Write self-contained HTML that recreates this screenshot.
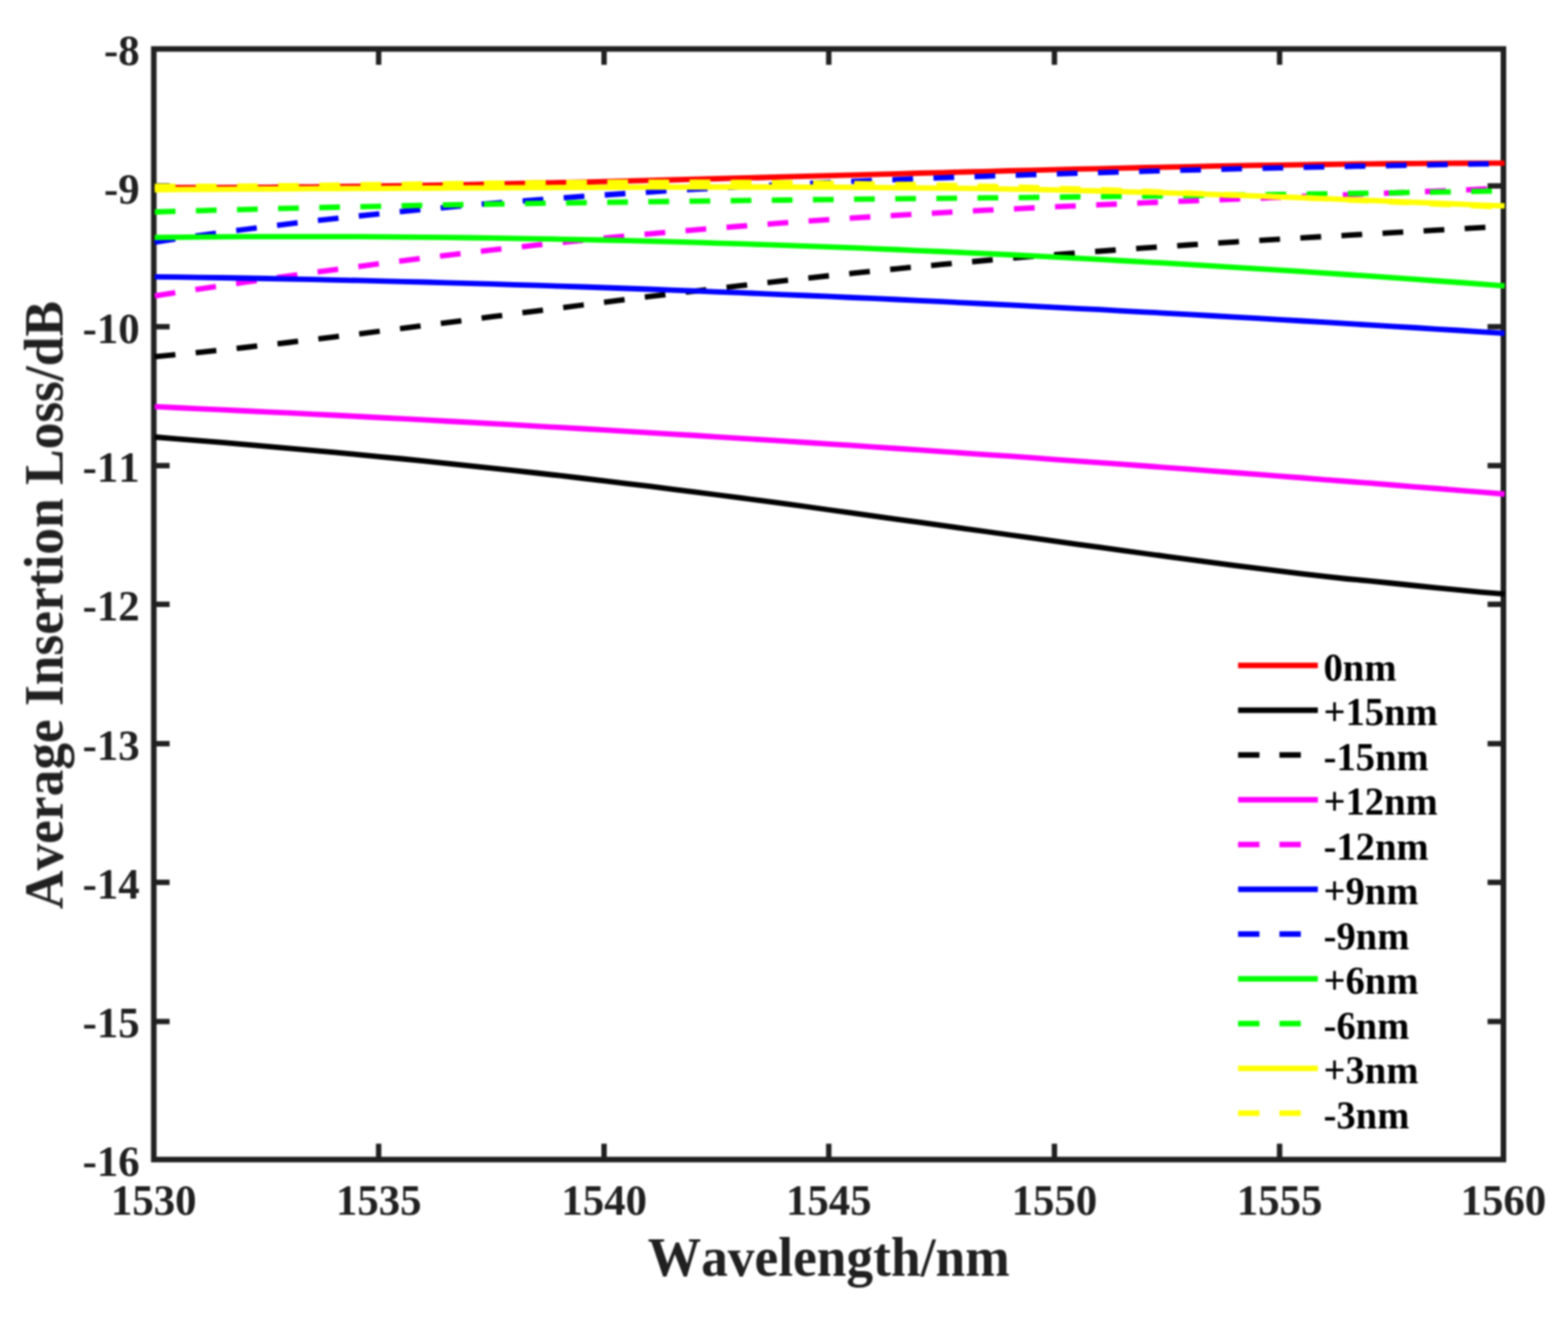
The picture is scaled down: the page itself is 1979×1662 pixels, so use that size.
<!DOCTYPE html>
<html lang="en">
<head>
<meta charset="utf-8">
<title>Average Insertion Loss vs Wavelength</title>
<style>
html,body{margin:0;padding:0;background:#fff;}
body{width:1979px;height:1662px;overflow:hidden;}
svg{display:block;}
text{font-family:"Liberation Serif","DejaVu Serif",serif;font-weight:bold;font-kerning:none;}
.tk{font-size:54px;fill:#202020;}
.al{font-size:67.4px;fill:#202020;}
.lg{font-size:48.7px;fill:#000;}
</style>
</head>
<body>
<svg width="1979" height="1662" viewBox="0 0 1979 1662">
<rect x="0" y="0" width="1979" height="1662" fill="#ffffff"/>
<defs><filter id="soft" x="0" y="0" width="1979" height="1662" filterUnits="userSpaceOnUse" color-interpolation-filters="sRGB"><feGaussianBlur in="SourceGraphic" stdDeviation="1" result="b"/><feComposite in="SourceGraphic" in2="b" operator="arithmetic" k1="0" k2="0" k3="1" k4="0"/></filter></defs>
<g filter="url(#soft)">
<g stroke="#202020" fill="none" stroke-linecap="butt">
<rect x="194.1" y="61.8" width="1703.4" height="1401.5" stroke-width="7"/>
<line x1="477.9" y1="1463.3" x2="477.9" y2="1443.3" stroke-width="6.8"/>
<line x1="477.9" y1="61.8" x2="477.9" y2="81.8" stroke-width="6.8"/>
<line x1="762.4" y1="1463.3" x2="762.4" y2="1443.3" stroke-width="6.8"/>
<line x1="762.4" y1="61.8" x2="762.4" y2="81.8" stroke-width="6.8"/>
<line x1="1046" y1="1463.3" x2="1046" y2="1443.3" stroke-width="6.8"/>
<line x1="1046" y1="61.8" x2="1046" y2="81.8" stroke-width="6.8"/>
<line x1="1330.8" y1="1463.3" x2="1330.8" y2="1443.3" stroke-width="6.8"/>
<line x1="1330.8" y1="61.8" x2="1330.8" y2="81.8" stroke-width="6.8"/>
<line x1="1615" y1="1463.3" x2="1615" y2="1443.3" stroke-width="6.8"/>
<line x1="1615" y1="61.8" x2="1615" y2="81.8" stroke-width="6.8"/>
<line x1="194.1" y1="234.6" x2="214.1" y2="234.6" stroke-width="6.8"/>
<line x1="1897.5" y1="234.6" x2="1877.5" y2="234.6" stroke-width="6.8"/>
<line x1="194.1" y1="412.3" x2="214.1" y2="412.3" stroke-width="6.8"/>
<line x1="1897.5" y1="412.3" x2="1877.5" y2="412.3" stroke-width="6.8"/>
<line x1="194.1" y1="587.6" x2="214.1" y2="587.6" stroke-width="6.8"/>
<line x1="1897.5" y1="587.6" x2="1877.5" y2="587.6" stroke-width="6.8"/>
<line x1="194.1" y1="762.6" x2="214.1" y2="762.6" stroke-width="6.8"/>
<line x1="1897.5" y1="762.6" x2="1877.5" y2="762.6" stroke-width="6.8"/>
<line x1="194.1" y1="938.5" x2="214.1" y2="938.5" stroke-width="6.8"/>
<line x1="1897.5" y1="938.5" x2="1877.5" y2="938.5" stroke-width="6.8"/>
<line x1="194.1" y1="1113.5" x2="214.1" y2="1113.5" stroke-width="6.8"/>
<line x1="1897.5" y1="1113.5" x2="1877.5" y2="1113.5" stroke-width="6.8"/>
<line x1="194.1" y1="1289.1" x2="214.1" y2="1289.1" stroke-width="6.8"/>
<line x1="1897.5" y1="1289.1" x2="1877.5" y2="1289.1" stroke-width="6.8"/>
</g>
<g fill="none" stroke-width="6.8" stroke-linecap="butt" stroke-linejoin="round">
<path d="M195.3 236.7 L223.7 236.7 L252.1 236.7 L280.5 236.6 L308.9 236.5 L337.3 236.3 L365.7 236.0 L394.1 235.8 L422.5 235.4 L450.9 235.1 L479.2 234.7 L507.6 234.3 L536.0 233.8 L564.4 233.3 L592.8 232.8 L621.2 232.2 L649.6 231.7 L678.0 231.0 L706.4 230.4 L734.8 229.8 L763.2 229.1 L791.6 228.4 L820.0 227.7 L848.4 227.0 L876.8 226.2 L905.2 225.5 L933.6 224.7 L962.0 224.0 L990.4 223.2 L1018.8 222.4 L1047.1 221.6 L1075.5 220.9 L1103.9 220.1 L1132.3 219.3 L1160.7 218.5 L1189.1 217.8 L1217.5 217.0 L1245.9 216.3 L1274.3 215.5 L1302.7 214.8 L1331.1 214.1 L1359.5 213.4 L1387.9 212.8 L1416.3 212.1 L1444.7 211.5 L1473.1 210.9 L1501.5 210.3 L1529.9 209.7 L1558.3 209.2 L1586.7 208.7 L1615.0 208.3 L1643.4 207.8 L1671.8 207.5 L1700.2 207.1 L1728.6 206.8 L1757.0 206.5 L1785.4 206.3 L1813.8 206.1 L1842.2 206.0 L1870.6 205.9 L1899.0 205.9" stroke="#ff0000"/>
<path d="M195.3 551.5 L223.7 553.8 L252.1 556.1 L280.5 558.4 L308.9 560.8 L337.3 563.3 L365.7 565.8 L394.1 568.3 L422.5 570.9 L450.9 573.6 L479.2 576.3 L507.6 579.0 L536.0 581.9 L564.4 584.8 L592.8 587.8 L621.2 590.8 L649.6 593.9 L678.0 597.0 L706.4 600.2 L734.8 603.5 L763.2 606.9 L791.6 610.3 L820.0 613.7 L848.4 617.3 L876.8 620.8 L905.2 624.5 L933.6 628.2 L962.0 631.9 L990.4 635.7 L1018.8 639.5 L1047.1 643.5 L1075.5 647.4 L1103.9 651.4 L1132.3 655.3 L1160.7 659.2 L1189.1 663.1 L1217.5 667.1 L1245.9 671.0 L1274.3 675.0 L1302.7 678.9 L1331.1 682.9 L1359.5 686.8 L1387.9 690.7 L1416.3 694.6 L1444.7 698.5 L1473.1 702.3 L1501.5 706.1 L1529.9 709.9 L1558.3 713.6 L1586.7 717.2 L1615.0 720.7 L1643.4 724.1 L1671.8 727.4 L1700.2 730.5 L1728.6 733.1 L1757.0 736.0 L1785.4 739.0 L1813.8 741.9 L1842.2 744.7 L1870.6 747.3 L1899.0 749.7" stroke="#000000"/>
<path d="M195.3 450.2 L223.7 447.5 L252.1 444.6 L280.5 441.6 L308.9 438.5 L337.3 435.3 L365.7 432.0 L394.1 428.6 L422.5 425.1 L450.9 421.6 L479.2 418.0 L507.6 414.4 L536.0 410.8 L564.4 407.1 L592.8 403.4 L621.2 399.7 L649.6 396.0 L678.0 392.3 L706.4 388.6 L734.8 385.0 L763.2 381.4 L791.6 377.8 L820.0 374.2 L848.4 370.7 L876.8 367.3 L905.2 363.9 L933.6 360.6 L962.0 357.3 L990.4 354.1 L1018.8 351.0 L1047.1 347.9 L1075.5 344.9 L1103.9 342.0 L1132.3 339.1 L1160.7 336.4 L1189.1 333.7 L1217.5 331.1 L1245.9 328.5 L1274.3 326.1 L1302.7 323.7 L1331.1 321.4 L1359.5 319.1 L1387.9 317.0 L1416.3 314.9 L1444.7 312.9 L1473.1 310.9 L1501.5 309.0 L1529.9 307.1 L1558.3 305.3 L1586.7 303.6 L1615.0 301.8 L1643.4 300.2 L1671.8 298.5 L1700.2 296.9 L1728.6 295.3 L1757.0 293.7 L1785.4 292.0 L1813.8 290.4 L1842.2 288.8 L1870.6 287.2 L1899.0 285.5" stroke="#000000" stroke-dasharray="26.2 25.73"/>
<path d="M195.3 513.2 L223.7 514.5 L252.1 515.8 L280.5 517.1 L308.9 518.5 L337.3 519.8 L365.7 521.2 L394.1 522.6 L422.5 524.0 L450.9 525.5 L479.2 527.0 L507.6 528.4 L536.0 529.9 L564.4 531.5 L592.8 533.0 L621.2 534.6 L649.6 536.2 L678.0 537.8 L706.4 539.4 L734.8 541.0 L763.2 542.7 L791.6 544.4 L820.0 546.1 L848.4 547.8 L876.8 549.5 L905.2 551.3 L933.6 553.1 L962.0 554.9 L990.4 556.7 L1018.8 558.5 L1047.1 560.3 L1075.5 562.2 L1103.9 564.1 L1132.3 566.0 L1160.7 567.9 L1189.1 569.8 L1217.5 571.8 L1245.9 573.8 L1274.3 575.7 L1302.7 577.7 L1331.1 579.8 L1359.5 581.8 L1387.9 583.8 L1416.3 585.9 L1444.7 588.0 L1473.1 590.1 L1501.5 592.2 L1529.9 594.4 L1558.3 596.5 L1586.7 598.7 L1615.0 600.8 L1643.4 603.0 L1671.8 605.3 L1700.2 607.5 L1728.6 609.7 L1757.0 612.0 L1785.4 614.3 L1813.8 616.5 L1842.2 618.8 L1870.6 621.2 L1899.0 623.5" stroke="#ff00ff"/>
<path d="M195.3 373.4 L223.7 369.0 L252.1 364.6 L280.5 360.4 L308.9 356.2 L337.3 352.1 L365.7 348.1 L394.1 344.1 L422.5 340.3 L450.9 336.5 L479.2 332.7 L507.6 329.1 L536.0 325.5 L564.4 322.1 L592.8 318.7 L621.2 315.4 L649.6 312.3 L678.0 309.2 L706.4 306.2 L734.8 303.3 L763.2 300.5 L791.6 297.7 L820.0 295.1 L848.4 292.5 L876.8 290.1 L905.2 287.7 L933.6 285.5 L962.0 283.3 L990.4 281.1 L1018.8 279.1 L1047.1 277.1 L1075.5 275.2 L1103.9 273.4 L1132.3 271.7 L1160.7 270.0 L1189.1 268.3 L1217.5 266.8 L1245.9 265.2 L1274.3 263.8 L1302.7 262.4 L1331.1 261.0 L1359.5 259.7 L1387.9 258.4 L1416.3 257.2 L1444.7 255.9 L1473.1 254.8 L1501.5 253.6 L1529.9 252.4 L1558.3 251.3 L1586.7 250.2 L1615.0 249.1 L1643.4 248.0 L1671.8 246.9 L1700.2 245.8 L1728.6 244.6 L1757.0 243.5 L1785.4 242.3 L1813.8 241.1 L1842.2 239.9 L1870.6 238.6 L1899.0 237.3" stroke="#ff00ff" stroke-dasharray="26.2 25.73"/>
<path d="M195.3 349.3 L223.7 349.7 L252.1 350.1 L280.5 350.5 L308.9 351.0 L337.3 351.5 L365.7 352.1 L394.1 352.7 L422.5 353.3 L450.9 353.9 L479.2 354.6 L507.6 355.3 L536.0 356.0 L564.4 356.8 L592.8 357.6 L621.2 358.4 L649.6 359.3 L678.0 360.2 L706.4 361.1 L734.8 362.0 L763.2 363.0 L791.6 364.0 L820.0 365.0 L848.4 366.1 L876.8 367.2 L905.2 368.3 L933.6 369.4 L962.0 370.6 L990.4 371.8 L1018.8 373.0 L1047.1 374.2 L1075.5 375.5 L1103.9 376.7 L1132.3 378.0 L1160.7 379.4 L1189.1 380.7 L1217.5 382.1 L1245.9 383.5 L1274.3 384.9 L1302.7 386.3 L1331.1 387.8 L1359.5 389.3 L1387.9 390.7 L1416.3 392.3 L1444.7 393.8 L1473.1 395.3 L1501.5 396.9 L1529.9 398.5 L1558.3 400.1 L1586.7 401.7 L1615.0 403.4 L1643.4 405.0 L1671.8 406.7 L1700.2 408.4 L1728.6 410.1 L1757.0 411.8 L1785.4 413.5 L1813.8 415.3 L1842.2 417.0 L1870.6 418.8 L1899.0 420.6" stroke="#0000ff"/>
<path d="M195.3 305.6 L223.7 301.3 L252.1 297.2 L280.5 293.3 L308.9 289.5 L337.3 285.9 L365.7 282.4 L394.1 279.0 L422.5 275.8 L450.9 272.7 L479.2 269.8 L507.6 266.9 L536.0 264.2 L564.4 261.6 L592.8 259.0 L621.2 256.6 L649.6 254.3 L678.0 252.1 L706.4 250.0 L734.8 247.9 L763.2 246.0 L791.6 244.1 L820.0 242.3 L848.4 240.5 L876.8 238.9 L905.2 237.3 L933.6 235.7 L962.0 234.3 L990.4 232.9 L1018.8 231.5 L1047.1 230.2 L1075.5 228.9 L1103.9 227.7 L1132.3 226.6 L1160.7 225.4 L1189.1 224.3 L1217.5 223.3 L1245.9 222.3 L1274.3 221.3 L1302.7 220.4 L1331.1 219.5 L1359.5 218.6 L1387.9 217.8 L1416.3 216.9 L1444.7 216.1 L1473.1 215.4 L1501.5 214.6 L1529.9 213.9 L1558.3 213.2 L1586.7 212.5 L1615.0 211.9 L1643.4 211.2 L1671.8 210.6 L1700.2 210.0 L1728.6 209.5 L1757.0 208.9 L1785.4 208.4 L1813.8 207.9 L1842.2 207.4 L1870.6 206.9 L1899.0 206.5" stroke="#0000ff" stroke-dasharray="26.2 25.73"/>
<path d="M195.3 299.6 L223.7 299.3 L252.1 299.1 L280.5 298.9 L308.9 298.7 L337.3 298.6 L365.7 298.6 L394.1 298.6 L422.5 298.6 L450.9 298.7 L479.2 298.9 L507.6 299.1 L536.0 299.3 L564.4 299.6 L592.8 300.0 L621.2 300.4 L649.6 300.8 L678.0 301.3 L706.4 301.8 L734.8 302.4 L763.2 303.0 L791.6 303.7 L820.0 304.4 L848.4 305.1 L876.8 305.9 L905.2 306.8 L933.6 307.7 L962.0 308.6 L990.4 309.6 L1018.8 310.6 L1047.1 311.6 L1075.5 312.7 L1103.9 313.9 L1132.3 315.0 L1160.7 316.3 L1189.1 317.5 L1217.5 318.8 L1245.9 320.1 L1274.3 321.5 L1302.7 322.9 L1331.1 324.4 L1359.5 325.9 L1387.9 327.4 L1416.3 329.0 L1444.7 330.6 L1473.1 332.2 L1501.5 333.9 L1529.9 335.6 L1558.3 337.3 L1586.7 339.1 L1615.0 340.9 L1643.4 342.7 L1671.8 344.6 L1700.2 346.5 L1728.6 348.4 L1757.0 350.4 L1785.4 352.4 L1813.8 354.5 L1842.2 356.5 L1870.6 358.6 L1899.0 360.8" stroke="#00ff00"/>
<path d="M195.3 267.5 L223.7 266.6 L252.1 265.8 L280.5 265.0 L308.9 264.3 L337.3 263.5 L365.7 262.8 L394.1 262.2 L422.5 261.5 L450.9 260.9 L479.2 260.3 L507.6 259.7 L536.0 259.1 L564.4 258.6 L592.8 258.1 L621.2 257.6 L649.6 257.1 L678.0 256.6 L706.4 256.2 L734.8 255.8 L763.2 255.4 L791.6 255.0 L820.0 254.6 L848.4 254.2 L876.8 253.8 L905.2 253.5 L933.6 253.1 L962.0 252.8 L990.4 252.5 L1018.8 252.1 L1047.1 251.8 L1075.5 251.5 L1103.9 251.2 L1132.3 250.9 L1160.7 250.6 L1189.1 250.3 L1217.5 250.0 L1245.9 249.7 L1274.3 249.4 L1302.7 249.1 L1331.1 248.8 L1359.5 248.5 L1387.9 248.2 L1416.3 247.9 L1444.7 247.6 L1473.1 247.2 L1501.5 246.9 L1529.9 246.5 L1558.3 246.2 L1586.7 245.8 L1615.0 245.4 L1643.4 245.0 L1671.8 244.6 L1700.2 244.2 L1728.6 243.8 L1757.0 243.3 L1785.4 242.8 L1813.8 242.4 L1842.2 241.9 L1870.6 241.3 L1899.0 240.8" stroke="#00ff00" stroke-dasharray="26.2 25.73"/>
<path d="M195.3 239.5 L223.7 239.2 L252.1 239.0 L280.5 238.8 L308.9 238.6 L337.3 238.5 L365.7 238.3 L394.1 238.2 L422.5 238.0 L450.9 237.9 L479.2 237.8 L507.6 237.6 L536.0 237.5 L564.4 237.3 L592.8 237.2 L621.2 237.1 L649.6 236.9 L678.0 236.8 L706.4 236.6 L734.8 236.5 L763.2 236.4 L791.6 236.3 L820.0 236.2 L848.4 236.1 L876.8 236.1 L905.2 236.0 L933.6 236.0 L962.0 236.0 L990.4 236.0 L1018.8 236.1 L1047.1 236.2 L1075.5 236.4 L1103.9 236.6 L1132.3 236.8 L1160.7 237.1 L1189.1 237.4 L1217.5 237.7 L1245.9 238.2 L1274.3 238.6 L1302.7 239.2 L1331.1 239.7 L1359.5 240.4 L1387.9 241.0 L1416.3 241.8 L1444.7 242.6 L1473.1 243.4 L1501.5 244.3 L1529.9 245.3 L1558.3 246.3 L1586.7 247.3 L1615.0 248.4 L1643.4 249.5 L1671.8 250.6 L1700.2 251.8 L1728.6 252.9 L1757.0 254.1 L1785.4 255.3 L1813.8 256.5 L1842.2 257.6 L1870.6 258.8 L1899.0 259.9" stroke="#ffff00"/>
<path d="M195.3 235.2 L223.7 235.2 L252.1 235.2 L280.5 235.0 L308.9 234.8 L337.3 234.6 L365.7 234.3 L394.1 234.0 L422.5 233.7 L450.9 233.3 L479.2 232.9 L507.6 232.6 L536.0 232.2 L564.4 231.9 L592.8 231.6 L621.2 231.2 L649.6 231.0 L678.0 230.7 L706.4 230.5 L734.8 230.3 L763.2 230.1 L791.6 230.0 L820.0 229.9 L848.4 229.9 L876.8 229.9 L905.2 230.0 L933.6 230.2 L962.0 230.3 L990.4 230.6 L1018.8 230.9 L1047.1 231.2 L1075.5 231.6 L1103.9 232.1 L1132.3 232.6 L1160.7 233.1 L1189.1 233.7 L1217.5 234.4 L1245.9 235.1 L1274.3 235.9 L1302.7 236.7 L1331.1 237.6 L1359.5 238.5 L1387.9 239.4 L1416.3 240.4 L1444.7 241.5 L1473.1 242.5 L1501.5 243.6 L1529.9 244.8 L1558.3 245.9 L1586.7 247.1 L1615.0 248.4 L1643.4 249.6 L1671.8 250.9 L1700.2 252.2 L1728.6 253.5 L1757.0 254.8 L1785.4 256.1 L1813.8 257.5 L1842.2 258.8 L1870.6 260.2 L1899.0 261.5" stroke="#ffff00" stroke-dasharray="26.2 25.73"/>
</g>
<g stroke-width="6.9" fill="none">
<line x1="1562.6" y1="839.8" x2="1663.3" y2="839.8" stroke="#ff0000"/>
<line x1="1562.6" y1="896.3" x2="1663.3" y2="896.3" stroke="#000000"/>
<line x1="1562.6" y1="952.8" x2="1663.3" y2="952.8" stroke="#000000" stroke-dasharray="27 25.2"/>
<line x1="1562.6" y1="1009.3" x2="1663.3" y2="1009.3" stroke="#ff00ff"/>
<line x1="1562.6" y1="1065.8" x2="1663.3" y2="1065.8" stroke="#ff00ff" stroke-dasharray="27 25.2"/>
<line x1="1562.6" y1="1122.3" x2="1663.3" y2="1122.3" stroke="#0000ff"/>
<line x1="1562.6" y1="1178.8" x2="1663.3" y2="1178.8" stroke="#0000ff" stroke-dasharray="27 25.2"/>
<line x1="1562.6" y1="1235.3" x2="1663.3" y2="1235.3" stroke="#00ff00"/>
<line x1="1562.6" y1="1291.8" x2="1663.3" y2="1291.8" stroke="#00ff00" stroke-dasharray="27 25.2"/>
<line x1="1562.6" y1="1348.3" x2="1663.3" y2="1348.3" stroke="#ffff00"/>
<line x1="1562.6" y1="1404.8" x2="1663.3" y2="1404.8" stroke="#ffff00" stroke-dasharray="27 25.2"/>
</g>
<text class="lg" transform="translate(1670.5 858.8) scale(1 1.03)">0nm</text>
<text class="lg" transform="translate(1670.5 915.3) scale(1 1.03)">+15nm</text>
<text class="lg" transform="translate(1670.5 971.8) scale(1 1.03)">-15nm</text>
<text class="lg" transform="translate(1670.5 1028.3) scale(1 1.03)">+12nm</text>
<text class="lg" transform="translate(1670.5 1084.8) scale(1 1.03)">-12nm</text>
<text class="lg" transform="translate(1670.5 1141.3) scale(1 1.03)">+9nm</text>
<text class="lg" transform="translate(1670.5 1197.8) scale(1 1.03)">-9nm</text>
<text class="lg" transform="translate(1670.5 1254.3) scale(1 1.03)">+6nm</text>
<text class="lg" transform="translate(1670.5 1310.8) scale(1 1.03)">-6nm</text>
<text class="lg" transform="translate(1670.5 1367.3) scale(1 1.03)">+3nm</text>
<text class="lg" transform="translate(1670.5 1423.8) scale(1 1.03)">-3nm</text>
<text class="tk" transform="translate(194.1 1533) scale(1 1.03)" text-anchor="middle">1530</text>
<text class="tk" transform="translate(477.9 1533) scale(1 1.03)" text-anchor="middle">1535</text>
<text class="tk" transform="translate(762.4 1533) scale(1 1.03)" text-anchor="middle">1540</text>
<text class="tk" transform="translate(1046 1533) scale(1 1.03)" text-anchor="middle">1545</text>
<text class="tk" transform="translate(1330.8 1533) scale(1 1.03)" text-anchor="middle">1550</text>
<text class="tk" transform="translate(1615 1533) scale(1 1.03)" text-anchor="middle">1555</text>
<text class="tk" transform="translate(1897.5 1533) scale(1 1.03)" text-anchor="middle">1560</text>
<text class="tk" transform="translate(176.2 82.05) scale(1 1.03)" text-anchor="end">-8</text>
<text class="tk" transform="translate(176.2 257.35) scale(1 1.03)" text-anchor="end">-9</text>
<text class="tk" transform="translate(176.2 432.65) scale(1 1.03)" text-anchor="end">-10</text>
<text class="tk" transform="translate(176.2 607.95) scale(1 1.03)" text-anchor="end">-11</text>
<text class="tk" transform="translate(176.2 783.25) scale(1 1.03)" text-anchor="end">-12</text>
<text class="tk" transform="translate(176.2 958.55) scale(1 1.03)" text-anchor="end">-13</text>
<text class="tk" transform="translate(176.2 1133.85) scale(1 1.03)" text-anchor="end">-14</text>
<text class="tk" transform="translate(176.2 1309.15) scale(1 1.03)" text-anchor="end">-15</text>
<text class="tk" transform="translate(176.2 1484.45) scale(1 1.03)" text-anchor="end">-16</text>
<text class="al" transform="translate(1045.9 1610.3) scale(1 1.03)" text-anchor="middle">Wavelength/nm</text>
<text class="al" transform="translate(78.8 763.5) rotate(-90) scale(1 1.03)" text-anchor="middle">Average Insertion Loss/dB</text>
</g>
</svg>
</body>
</html>
